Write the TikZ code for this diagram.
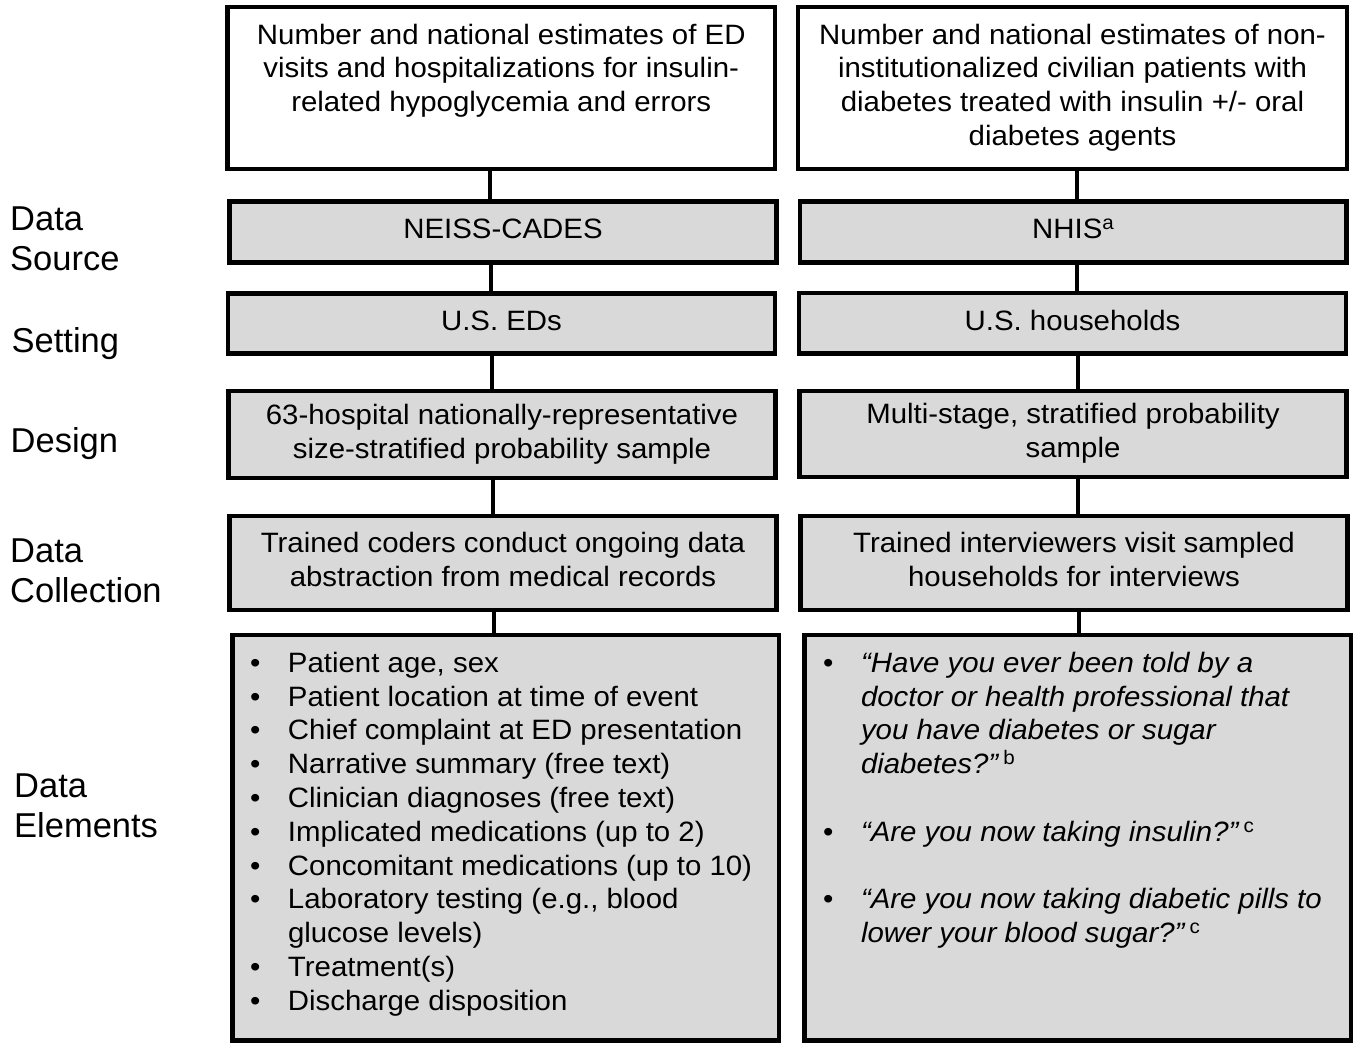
\documentclass[tikz,border=0pt]{standalone}
\usepackage{fontspec}
\setmainfont{Liberation Sans}[FakeStretch=1.05]
\newfontfamily\labfont{Liberation Sans}
\definecolor{boxgray}{HTML}{D9D9D9}
\newcommand\bodyfs{\fontsize{28}{33.8}\selectfont}
\newcommand\labfs{\labfont\fontsize{34.5}{40}\selectfont}
\newcommand\lrow[2]{\makebox[38pt][l]{#1}\makebox[473.5pt][l]{#2}}
\newcommand\rrow[2]{\makebox[38pt][l]{#1}\makebox[471.5pt][l]{\itshape #2}}
\newcommand\upsup[1]{\hspace{5pt}{\upshape\textsuperscript{#1}}}
\newcommand\lastfix{\rule[-16.5pt]{0pt}{1pt}}
\begin{document}
\begin{tikzpicture}[x=1pt,y=-1pt,
  box/.style={draw=black, line width=4.2pt, fill=boxgray, inner sep=0pt, font=\bodyfs, align=center},
  wbox/.style={box, fill=white},
  lab/.style={anchor=north west, inner sep=0pt, font=\labfs},
  conn/.style={draw=black, line width=4.2pt}]
\useasboundingbox (0,0) rectangle (1354,1043);
\fill[white] (0,0) rectangle (1354,1043);

% ---- left column ----
\node[wbox, minimum width=547.5pt, minimum height=162pt] (l1) at (501.25,88)
  {\begin{tabular}{@{}c@{}}Number and national estimates of ED\\visits and hospitalizations for insulin-\\related hypoglycemia and errors\\ \mbox{}\end{tabular}};
\node[box, minimum width=547pt, minimum height=61pt] (l2) at (503,232)
  {\begin{tabular}{@{}c@{}}NEISS-CADES\end{tabular}};
\node[box, minimum width=547pt, minimum height=60pt] (l3) at (501.5,323.5)
  {\begin{tabular}{@{}c@{}}U.S. EDs\end{tabular}};
\node[box, minimum width=547pt, minimum height=87pt] (l4) at (502,434.5)
  {\begin{tabular}{@{}c@{}}63-hospital nationally-representative\\size-stratified probability sample\end{tabular}};
\node[box, minimum width=547pt, minimum height=94pt] (l5) at (503,563)
  {\begin{tabular}{@{}c@{}}Trained coders conduct ongoing data\\abstraction from medical records\end{tabular}};
\node[box, minimum width=546.5pt, minimum height=405.5pt] (l6) at (505.75,837.75)
  {\begin{tabular}{@{}l@{}}
   \lrow{•}{Patient age, sex}\\
   \lrow{•}{Patient location at time of event}\\
   \lrow{•}{Chief complaint at ED presentation}\\
   \lrow{•}{Narrative summary (free text)}\\
   \lrow{•}{Clinician diagnoses (free text)}\\
   \lrow{•}{Implicated medications (up to 2)}\\
   \lrow{•}{Concomitant medications (up to 10)}\\
   \lrow{•}{Laboratory testing (e.g., blood}\\
   \lrow{}{glucose levels)}\\
   \lrow{•}{Treatment(s)}\\
   \lrow{•}{Discharge disposition}\lastfix
   \end{tabular}};

% ---- right column ----
\node[wbox, minimum width=549pt, minimum height=162pt] (r1) at (1072.5,88)
  {\begin{tabular}{@{}c@{}}Number and national estimates of non-\\institutionalized civilian patients with\\diabetes treated with insulin +/- oral\\diabetes agents\end{tabular}};
\node[box, minimum width=546.5pt, minimum height=61pt] (r2) at (1073.25,232)
  {\begin{tabular}{@{}c@{}}NHIS\textsuperscript{a}\end{tabular}};
\node[box, minimum width=547pt, minimum height=60.5pt] (r3) at (1072.5,323.25)
  {\begin{tabular}{@{}c@{}}U.S. households\end{tabular}};
\node[box, minimum width=547pt, minimum height=86pt] (r4) at (1073,434)
  {\begin{tabular}{@{}c@{}}Multi-stage, stratified probability\\sample\end{tabular}};
\node[box, minimum width=547pt, minimum height=94pt] (r5) at (1074,563)
  {\begin{tabular}{@{}c@{}}Trained interviewers visit sampled\\households for interviews\end{tabular}};
\node[box, minimum width=546.5pt, minimum height=405.5pt] (r6) at (1077.75,837.75)
  {\begin{tabular}{@{}l@{}}
   \rrow{•}{“Have you ever been told by a}\\
   \rrow{}{doctor or health professional that}\\
   \rrow{}{you have diabetes or sugar}\\
   \rrow{}{diabetes?”\upsup{b}}\\
   \rrow{}{}\\
   \rrow{•}{“Are you now taking insulin?”\upsup{c}}\\
   \rrow{}{}\\
   \rrow{•}{“Are you now taking diabetic pills to}\\
   \rrow{}{lower your blood sugar?”\upsup{c}}\\
   \rrow{}{}\\
   \rrow{}{}\lastfix
   \end{tabular}};

% ---- connectors ----
\coordinate (xa) at (490,0);
\coordinate (xb) at (491,0);
\coordinate (xc) at (492,0);
\coordinate (xd) at (493,0);
\coordinate (xe) at (494,0);
\coordinate (ya) at (1077,0);
\coordinate (yb) at (1077,0);
\coordinate (yc) at (1078,0);
\coordinate (yd) at (1078,0);
\coordinate (ye) at (1079,0);
\draw[conn] (l1.south -| xa) -- (l2.north -| xa);
\draw[conn] (l2.south -| xb) -- (l3.north -| xb);
\draw[conn] (l3.south -| xc) -- (l4.north -| xc);
\draw[conn] (l4.south -| xd) -- (l5.north -| xd);
\draw[conn] (l5.south -| xe) -- (l6.north -| xe);
\draw[conn] (r1.south -| ya) -- (r2.north -| ya);
\draw[conn] (r2.south -| yb) -- (r3.north -| yb);
\draw[conn] (r3.south -| yc) -- (r4.north -| yc);
\draw[conn] (r4.south -| yd) -- (r5.north -| yd);
\draw[conn] (r5.south -| ye) -- (r6.north -| ye);

% ---- row labels ----
\node[lab] (tsrc) at (10,202) {\begin{tabular}{@{}l@{}}Data\\Source\end{tabular}};
\node[lab] (tset) at (11.5,324) {\begin{tabular}{@{}l@{}}Setting\end{tabular}};
\node[lab] (tdes) at (10.5,424) {\begin{tabular}{@{}l@{}}Design\end{tabular}};
\node[lab] (tcol) at (10,534) {\begin{tabular}{@{}l@{}}Data\\Collection\end{tabular}};
\node[lab] (tele) at (14,769) {\begin{tabular}{@{}l@{}}Data\\Elements\end{tabular}};
\end{tikzpicture}
\end{document}
